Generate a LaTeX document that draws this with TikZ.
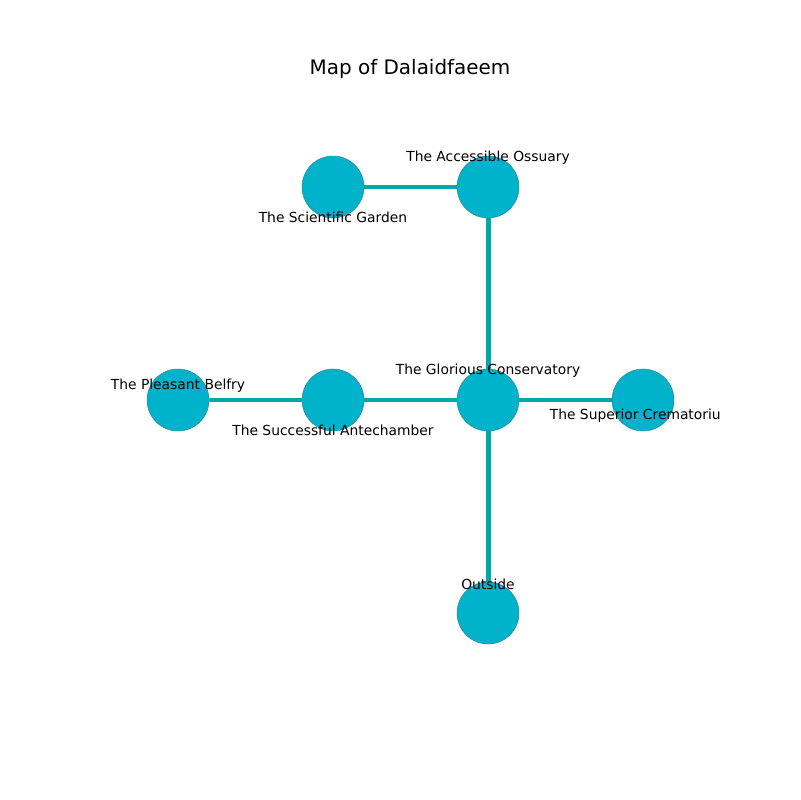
\documentclass[tikz,border=0pt]{standalone}
\usepackage{fontspec}
\setmainfont{DejaVu Sans}
\usepackage{tikz}
\usetikzlibrary{positioning,calc}
\definecolor{room}{RGB}{0,178,202}
\definecolor{roomedge}{RGB}{40,130,140}
\definecolor{passage}{RGB}{0,168,172}
\tikzstyle{room} = [circle, minimum size = 0.62in, inner sep = 0pt, fill = room, draw = roomedge, line width = 0.3pt]
\tikzstyle{passage} = [line width = 3.6pt, draw = passage]

\begin{document}
\begin{tikzpicture}[
x=0.01in, y=-0.01in,
font=\fontsize{10}{12}\selectfont,
lbl/.style={inner sep=0pt, align=center},
title/.style={inner sep=0pt, font=\fontsize{14.4}{17}\selectfont}]

\useasboundingbox (0,0) rectangle (800,800);
\node[title] (title) at (410,69) {Map of Dalaidfaeem};

\begin{scope}
\clip (80,80) rectangle (720,720);
% rooms
\node[room] (garden) at (333,187) {};
\node[room] (ossuary) at (488,187) {};
\node[room] (conservatory) at (488,400) {};
\node[room] (crematorium) at (643,400) {};
\node[room] (antechamber) at (333,400) {};
\node[room] (belfry) at (178,400) {};
\node[room] (outside) at (488,613) {};

% passages
\draw[passage] (garden) -- (ossuary);
\draw[passage] (ossuary) -- (conservatory);
\draw[passage] (belfry) -- (antechamber);
\draw[passage] (antechamber) -- (conservatory);
\draw[passage] (conservatory) -- (crematorium);
\draw[passage] (conservatory) -- (outside);

% labels
\node[lbl] (garden-l) at ($(garden)+(0,30)$) {The Scientific Garden};
\node[lbl] (ossuary-l) at ($(ossuary)+(0,-29)$) {The Accessible Ossuary};
\node[lbl] (conservatory-l) at ($(conservatory)+(0,-29)$) {The Glorious Conservatory};
\node[lbl] (crematorium-l) at ($(crematorium)+(-1,16)$) {The Superior Crematorium};
\node[lbl] (antechamber-l) at ($(antechamber)+(0,30)$) {The Successful Antechamber};
\node[lbl] (belfry-l) at ($(belfry)+(0,-14)$) {The Pleasant Belfry};
\node[lbl] (outside-l) at ($(outside)+(0,-29)$) {Outside};
\end{scope}
\end{tikzpicture}
\end{document}
